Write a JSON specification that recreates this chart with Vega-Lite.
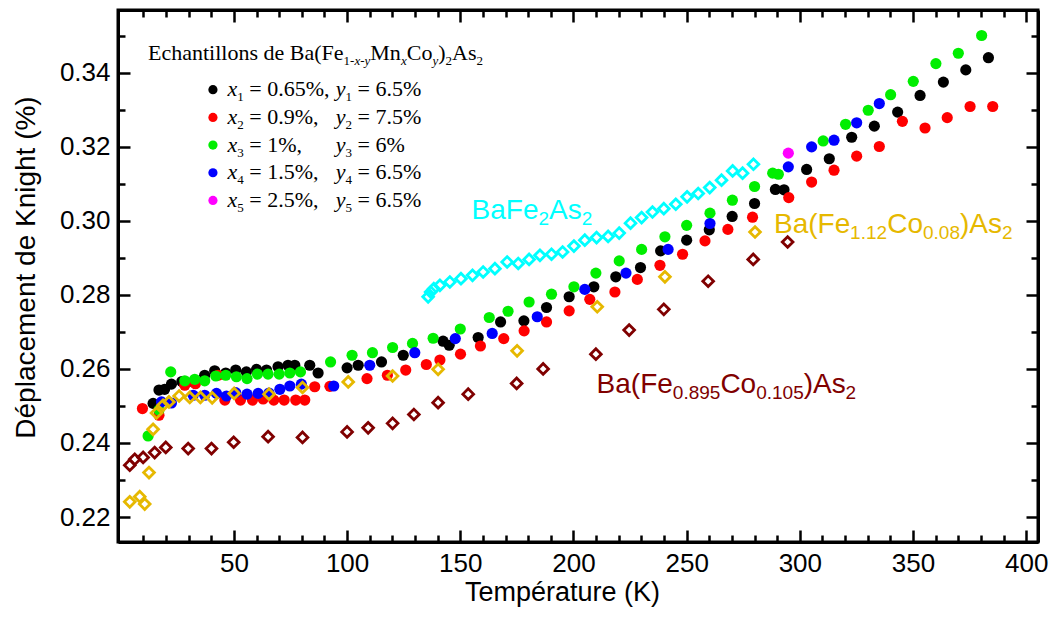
{
  "$schema": "https://vega.github.io/schema/vega-lite/v6.json",
  "width": 920,
  "height": 532,
  "autosize": {"type": "none"},
  "padding": {"left": 118, "top": 10, "right": 15, "bottom": 75},
  "background": "white",
  "config": {"view": {"stroke": "black", "strokeWidth": 3}},
  "datasets": {
    "circ": [
      {"s":"x1","T":14.3,"K":0.2507},{"s":"x1","T":16.9,"K":0.2543},{"s":"x1","T":19.4,"K":0.2545},{"s":"x1","T":22.4,"K":0.2559},{"s":"x1","T":27,"K":0.2566},{"s":"x1","T":32,"K":0.2565},{"s":"x1","T":37.1,"K":0.2583},{"s":"x1","T":41.5,"K":0.2595},{"s":"x1","T":46.4,"K":0.2589},{"s":"x1","T":50.8,"K":0.2597},{"s":"x1","T":55.5,"K":0.2592},{"s":"x1","T":60,"K":0.2599},{"s":"x1","T":64.4,"K":0.2597},{"s":"x1","T":69.5,"K":0.2606},{"s":"x1","T":73.9,"K":0.261},{"s":"x1","T":76.9,"K":0.261},{"s":"x1","T":83.5,"K":0.261},{"s":"x1","T":87.2,"K":0.2589},{"s":"x1","T":100,"K":0.2603},{"s":"x1","T":104.9,"K":0.261},{"s":"x1","T":115.2,"K":0.2619},{"s":"x1","T":124.8,"K":0.2637},{"s":"x1","T":142.4,"K":0.2675},{"s":"x1","T":145.1,"K":0.2664},{"s":"x1","T":157.9,"K":0.2685},{"s":"x1","T":167.8,"K":0.2727},{"s":"x1","T":178.1,"K":0.273},{"s":"x1","T":188.1,"K":0.2766},{"s":"x1","T":198.1,"K":0.2795},{"s":"x1","T":209,"K":0.2822},{"s":"x1","T":218.7,"K":0.2849},{"s":"x1","T":229.6,"K":0.2874},{"s":"x1","T":238.5,"K":0.2919},{"s":"x1","T":250,"K":0.2948},{"s":"x1","T":260,"K":0.2976},{"s":"x1","T":270.1,"K":0.3012},{"s":"x1","T":280,"K":0.3047},{"s":"x1","T":289.2,"K":0.3085},{"s":"x1","T":293,"K":0.3084},{"s":"x1","T":303,"K":0.3139},{"s":"x1","T":313,"K":0.3168},{"s":"x1","T":322.9,"K":0.3226},{"s":"x1","T":332.9,"K":0.3256},{"s":"x1","T":343.2,"K":0.3294},{"s":"x1","T":353.1,"K":0.3339},{"s":"x1","T":363.4,"K":0.3375},{"s":"x1","T":373.3,"K":0.3408},{"s":"x1","T":383.3,"K":0.3441},
      {"s":"x2","T":9.6,"K":0.2493},{"s":"x2","T":16.9,"K":0.2475},{"s":"x2","T":28.3,"K":0.2556},{"s":"x2","T":33,"K":0.256},{"s":"x2","T":43,"K":0.2583},{"s":"x2","T":46,"K":0.2516},{"s":"x2","T":52.9,"K":0.2516},{"s":"x2","T":58.2,"K":0.2516},{"s":"x2","T":62.9,"K":0.2519},{"s":"x2","T":67.6,"K":0.2516},{"s":"x2","T":72.2,"K":0.2516},{"s":"x2","T":77.3,"K":0.2516},{"s":"x2","T":81.3,"K":0.2516},{"s":"x2","T":85.7,"K":0.2552},{"s":"x2","T":92.4,"K":0.2553},{"s":"x2","T":108.8,"K":0.2574},{"s":"x2","T":117.8,"K":0.2583},{"s":"x2","T":125.9,"K":0.2597},{"s":"x2","T":135,"K":0.2612},{"s":"x2","T":141,"K":0.2624},{"s":"x2","T":150.1,"K":0.264},{"s":"x2","T":158.9,"K":0.2662},{"s":"x2","T":169.2,"K":0.2682},{"s":"x2","T":178.2,"K":0.2703},{"s":"x2","T":188.1,"K":0.2727},{"s":"x2","T":198.1,"K":0.2757},{"s":"x2","T":207.2,"K":0.2788},{"s":"x2","T":218.3,"K":0.2808},{"s":"x2","T":228.2,"K":0.2842},{"s":"x2","T":238.2,"K":0.288},{"s":"x2","T":248.2,"K":0.291},{"s":"x2","T":258.1,"K":0.2946},{"s":"x2","T":268.2,"K":0.2977},{"s":"x2","T":279.1,"K":0.301},{"s":"x2","T":295.1,"K":0.3063},{"s":"x2","T":305.2,"K":0.3105},{"s":"x2","T":315.1,"K":0.3137},{"s":"x2","T":325.1,"K":0.3175},{"s":"x2","T":335.1,"K":0.3201},{"s":"x2","T":345.3,"K":0.3269},{"s":"x2","T":355.3,"K":0.3251},{"s":"x2","T":365.1,"K":0.3279},{"s":"x2","T":375.2,"K":0.3309},{"s":"x2","T":385.2,"K":0.3309},
      {"s":"x3","T":12.1,"K":0.2419},{"s":"x3","T":16.9,"K":0.2489},{"s":"x3","T":22.1,"K":0.2592},{"s":"x3","T":28.3,"K":0.2568},{"s":"x3","T":32.7,"K":0.2572},{"s":"x3","T":37.1,"K":0.2568},{"s":"x3","T":42,"K":0.2581},{"s":"x3","T":46.4,"K":0.2583},{"s":"x3","T":51.1,"K":0.2579},{"s":"x3","T":55.8,"K":0.2574},{"s":"x3","T":60.4,"K":0.2586},{"s":"x3","T":65.1,"K":0.2586},{"s":"x3","T":70,"K":0.2586},{"s":"x3","T":74.7,"K":0.2589},{"s":"x3","T":79.4,"K":0.2592},{"s":"x3","T":92.7,"K":0.2619},{"s":"x3","T":102.2,"K":0.2637},{"s":"x3","T":111.2,"K":0.2644},{"s":"x3","T":120.1,"K":0.2658},{"s":"x3","T":128.9,"K":0.2669},{"s":"x3","T":138,"K":0.2683},{"s":"x3","T":150,"K":0.2708},{"s":"x3","T":162.8,"K":0.2739},{"s":"x3","T":171.1,"K":0.2756},{"s":"x3","T":180.4,"K":0.2781},{"s":"x3","T":190.3,"K":0.2802},{"s":"x3","T":200.2,"K":0.2822},{"s":"x3","T":209.9,"K":0.2859},{"s":"x3","T":220.2,"K":0.2892},{"s":"x3","T":230.1,"K":0.2923},{"s":"x3","T":240.4,"K":0.2957},{"s":"x3","T":250,"K":0.2988},{"s":"x3","T":260.3,"K":0.3021},{"s":"x3","T":270.2,"K":0.3056},{"s":"x3","T":280,"K":0.3093},{"s":"x3","T":288,"K":0.3129},{"s":"x3","T":290.5,"K":0.3126},{"s":"x3","T":310.3,"K":0.3216},{"s":"x3","T":320.2,"K":0.3261},{"s":"x3","T":330.2,"K":0.3299},{"s":"x3","T":340.1,"K":0.3341},{"s":"x3","T":350.1,"K":0.3377},{"s":"x3","T":360.1,"K":0.3425},{"s":"x3","T":370,"K":0.3453},{"s":"x3","T":380.3,"K":0.3501},
      {"s":"x4","T":18,"K":0.2511},{"s":"x4","T":22.4,"K":0.2508},{"s":"x4","T":32,"K":0.2529},{"s":"x4","T":37.1,"K":0.2529},{"s":"x4","T":42.3,"K":0.2534},{"s":"x4","T":46.7,"K":0.2527},{"s":"x4","T":50.8,"K":0.2536},{"s":"x4","T":55.8,"K":0.2532},{"s":"x4","T":60.7,"K":0.2534},{"s":"x4","T":65.5,"K":0.2535},{"s":"x4","T":70.3,"K":0.2545},{"s":"x4","T":74.7,"K":0.2554},{"s":"x4","T":79.8,"K":0.2559},{"s":"x4","T":94.1,"K":0.2554},{"s":"x4","T":110,"K":0.261},{"s":"x4","T":129.9,"K":0.2644},{"s":"x4","T":147.8,"K":0.2682},{"s":"x4","T":164.1,"K":0.2696},{"s":"x4","T":184,"K":0.2741},{"s":"x4","T":205,"K":0.2815},{"s":"x4","T":223.2,"K":0.2859},{"s":"x4","T":241.8,"K":0.2923},{"s":"x4","T":260.3,"K":0.2993},{"s":"x4","T":294.9,"K":0.3146},{"s":"x4","T":305.2,"K":0.32},{"s":"x4","T":315.1,"K":0.3218},{"s":"x4","T":325.1,"K":0.3265},{"s":"x4","T":335.1,"K":0.3317},
      {"s":"x5","T":294.9,"K":0.3183}
    ],
    "diam": [
      {"s":"Co0105","T":4,"K":0.234},{"s":"Co0105","T":6.2,"K":0.2356},{"s":"Co0105","T":9.9,"K":0.2361},{"s":"Co0105","T":15,"K":0.2374},{"s":"Co0105","T":19.9,"K":0.2388},{"s":"Co0105","T":29.8,"K":0.2385},{"s":"Co0105","T":40.1,"K":0.2385},{"s":"Co0105","T":49.9,"K":0.2402},{"s":"Co0105","T":65.1,"K":0.2417},{"s":"Co0105","T":80.3,"K":0.2415},{"s":"Co0105","T":100,"K":0.243},{"s":"Co0105","T":109.3,"K":0.2441},{"s":"Co0105","T":120.1,"K":0.2453},{"s":"Co0105","T":129.5,"K":0.2477},{"s":"Co0105","T":140.2,"K":0.2509},{"s":"Co0105","T":153.5,"K":0.2532},{"s":"Co0105","T":174.9,"K":0.2561},{"s":"Co0105","T":186.6,"K":0.26},{"s":"Co0105","T":209.9,"K":0.264},{"s":"Co0105","T":224.6,"K":0.2705},{"s":"Co0105","T":239.9,"K":0.2761},{"s":"Co0105","T":259.5,"K":0.2837},{"s":"Co0105","T":279.4,"K":0.2896},{"s":"Co0105","T":294.6,"K":0.2943},
      {"s":"Co008","T":4,"K":0.2241},{"s":"Co008","T":8.4,"K":0.2255},{"s":"Co008","T":10.6,"K":0.2235},{"s":"Co008","T":12.5,"K":0.232},{"s":"Co008","T":14.3,"K":0.2437},{"s":"Co008","T":15.8,"K":0.2481},{"s":"Co008","T":18.7,"K":0.2502},{"s":"Co008","T":21.3,"K":0.2511},{"s":"Co008","T":25.8,"K":0.2527},{"s":"Co008","T":30.5,"K":0.2523},{"s":"Co008","T":35.2,"K":0.2523},{"s":"Co008","T":40.4,"K":0.2522},{"s":"Co008","T":50.1,"K":0.2534},{"s":"Co008","T":65.5,"K":0.2532},{"s":"Co008","T":80.3,"K":0.255},{"s":"Co008","T":100.5,"K":0.2565},{"s":"Co008","T":120.1,"K":0.2581},{"s":"Co008","T":140.2,"K":0.2599},{"s":"Co008","T":175.1,"K":0.2649},{"s":"Co008","T":210.5,"K":0.2768},{"s":"Co008","T":240.4,"K":0.2849},{"s":"Co008","T":280.2,"K":0.297},
      {"s":"BaFe2As2","T":135.8,"K":0.2795},{"s":"BaFe2As2","T":136.9,"K":0.2808},{"s":"BaFe2As2","T":138.3,"K":0.2817},{"s":"BaFe2As2","T":141,"K":0.2826},{"s":"BaFe2As2","T":145.4,"K":0.2835},{"s":"BaFe2As2","T":150.3,"K":0.2844},{"s":"BaFe2As2","T":155.4,"K":0.2853},{"s":"BaFe2As2","T":160.1,"K":0.2862},{"s":"BaFe2As2","T":165.3,"K":0.2871},{"s":"BaFe2As2","T":170.7,"K":0.2889},{"s":"BaFe2As2","T":175.6,"K":0.2885},{"s":"BaFe2As2","T":180.4,"K":0.2896},{"s":"BaFe2As2","T":185.2,"K":0.2907},{"s":"BaFe2As2","T":190.3,"K":0.291},{"s":"BaFe2As2","T":195.2,"K":0.2916},{"s":"BaFe2As2","T":200.2,"K":0.2932},{"s":"BaFe2As2","T":205,"K":0.2948},{"s":"BaFe2As2","T":210.2,"K":0.2955},{"s":"BaFe2As2","T":215.3,"K":0.2958},{"s":"BaFe2As2","T":220.2,"K":0.2967},{"s":"BaFe2As2","T":225.2,"K":0.2994},{"s":"BaFe2As2","T":230.1,"K":0.3009},{"s":"BaFe2As2","T":234.9,"K":0.3024},{"s":"BaFe2As2","T":239.9,"K":0.3033},{"s":"BaFe2As2","T":245.2,"K":0.3045},{"s":"BaFe2As2","T":250.2,"K":0.3065},{"s":"BaFe2As2","T":255.1,"K":0.3074},{"s":"BaFe2As2","T":260.2,"K":0.309},{"s":"BaFe2As2","T":265.4,"K":0.311},{"s":"BaFe2As2","T":270.3,"K":0.3135},{"s":"BaFe2As2","T":274.7,"K":0.3129},{"s":"BaFe2As2","T":279.5,"K":0.3153}
    ],
    "legDots": [
      {"s":"x1","T":40.74,"K":0.33544},{"s":"x2","T":40.74,"K":0.32796},{"s":"x3","T":40.74,"K":0.32049},{"s":"x4","T":40.74,"K":0.31301},{"s":"x5","T":40.74,"K":0.30553}
    ],
    "annoMain": [
      {"s":"BaFe2As2","t":"BaFe","T":155.0,"K":0.30043},
      {"s":"BaFe2As2","t":"As","T":189.2,"K":0.30043},
      {"s":"Co008","t":"Ba(Fe","T":288.6,"K":0.29665},
      {"s":"Co008","t":"Co","T":338.6,"K":0.29665},
      {"s":"Co008","t":")As","T":370.7,"K":0.29665},
      {"s":"Co0105","t":"Ba(Fe","T":210.2,"K":0.25347},
      {"s":"Co0105","t":"Co","T":264.9,"K":0.25347},
      {"s":"Co0105","t":")As","T":301.7,"K":0.25347}
    ],
    "annoSub": [
      {"s":"BaFe2As2","t":"2","T":184.5,"K":0.29881},
      {"s":"BaFe2As2","t":"2","T":203.7,"K":0.29881},
      {"s":"Co008","t":"1.12","T":322.2,"K":0.29503},
      {"s":"Co008","t":"0.08","T":354.4,"K":0.29503},
      {"s":"Co008","t":"2","T":389.3,"K":0.29503},
      {"s":"Co0105","t":"0.895","T":243.9,"K":0.25185},
      {"s":"Co0105","t":"0.105","T":280.7,"K":0.25185},
      {"s":"Co0105","t":"2","T":320.2,"K":0.25185}
    ],
    "serifReg": [
      {"t":"Echantillons de Ba(Fe","T":12.06,"K":0.34348},
      {"t":"Mn","T":110.25,"K":0.34348},
      {"t":"Co","T":126.34,"K":0.34348},
      {"t":")","T":140.25,"K":0.34348},
      {"t":"As","T":146.35,"K":0.34348},
      {"t":"= 0.65%,","T":56.78,"K":0.33368},
      {"t":"= 6.5%","T":104.64,"K":0.33368},
      {"t":"= 0.9%,","T":56.78,"K":0.32621},
      {"t":"= 7.5%","T":104.64,"K":0.32621},
      {"t":"= 1%,","T":56.78,"K":0.31873},
      {"t":"= 6%","T":104.64,"K":0.31873},
      {"t":"= 1.5%,","T":56.78,"K":0.31125},
      {"t":"= 6.5%","T":104.64,"K":0.31125},
      {"t":"= 2.5%,","T":56.78,"K":0.30378},
      {"t":"= 6.5%","T":104.64,"K":0.30378}
    ],
    "serifIt": [
      {"t":"x","T":47.15,"K":0.33368},{"t":"y","T":95.0,"K":0.33368},
      {"t":"x","T":47.15,"K":0.32621},{"t":"y","T":95.0,"K":0.32621},
      {"t":"x","T":47.15,"K":0.31873},{"t":"y","T":95.0,"K":0.31873},
      {"t":"x","T":47.15,"K":0.31125},{"t":"y","T":95.0,"K":0.31125},
      {"t":"x","T":47.15,"K":0.30378},{"t":"y","T":95.0,"K":0.30378}
    ],
    "serifSub": [
      {"t":"1-","T":98.45,"K":0.34213},
      {"t":"-","T":105.79,"K":0.34213},
      {"t":"2","T":143.48,"K":0.34213},
      {"t":"2","T":157.14,"K":0.34213},
      {"t":"1","T":51.48,"K":0.33233},{"t":"1","T":99.34,"K":0.33233},
      {"t":"2","T":51.48,"K":0.32486},{"t":"2","T":99.34,"K":0.32486},
      {"t":"3","T":51.48,"K":0.31738},{"t":"3","T":99.34,"K":0.31738},
      {"t":"4","T":51.48,"K":0.3099},{"t":"4","T":99.34,"K":0.3099},
      {"t":"5","T":51.48,"K":0.30243},{"t":"5","T":99.34,"K":0.30243}
    ],
    "serifSubIt": [
      {"t":"x","T":103.22,"K":0.34213},
      {"t":"y","T":107.69,"K":0.34213},
      {"t":"x","T":123.77,"K":0.34213},
      {"t":"y","T":137.69,"K":0.34213}
    ]
  },
  "resolve": {"axis": {"x": "independent", "y": "independent"}},
  "layer": [
    {
      "data": {"name": "circ"},
      "mark": {"type": "circle", "size": 125, "opacity": 1},
      "encoding": {
        "x": {"field": "T", "type": "quantitative",
          "scale": {"domain": [-1.2, 405.2], "nice": false, "zero": false},
          "axis": {"orient": "bottom", "values": [10,20,30,40,50,60,70,80,90,100,110,120,130,140,150,160,170,180,190,200,210,220,230,240,250,260,270,280,290,300,310,320,330,340,350,360,370,380,390,400],
            "title": "Température (K)", "format": "d",
            "labelExpr": "datum.value % 50 === 0 ? datum.label : ''",
            "tickSize": {"condition": {"test": "datum.value % 50 === 0", "value": -12}, "value": -7},
            "tickWidth": 2.5, "tickColor": "black", "domainColor": "black", "domainWidth": 3,
            "grid": false, "labelOverlap": false, "labelFlush": false, "labelPadding": 20,
            "labelFont": "Liberation Sans", "labelFontSize": 26, "labelColor": "black",
            "titleFont": "Liberation Sans", "titleFontSize": 27, "titleFontWeight": "normal", "titleColor": "black",
            "titleBaseline": "alphabetic", "titleX": 444, "titleY": 58}},
        "y": {"field": "K", "type": "quantitative",
          "scale": {"domain": [0.21325, 0.35698], "nice": false, "zero": false},
          "axis": {"orient": "left", "values": [0.22,0.23,0.24,0.25,0.26,0.27,0.28,0.29,0.30,0.31,0.32,0.33,0.34,0.35],
            "title": "Déplacement de Knight (%)",
            "labelExpr": "round(datum.value*100) % 2 === 0 ? format(datum.value, '.2f') : ''",
            "tickSize": {"condition": {"test": "round(datum.value*100) % 2 === 0", "value": -12}, "value": -7},
            "tickWidth": 2.5, "tickColor": "black", "domainColor": "black", "domainWidth": 3,
            "grid": false, "labelOverlap": false, "labelFlush": false, "labelPadding": 20,
            "labelFont": "Liberation Sans", "labelFontSize": 26, "labelColor": "black",
            "titleFont": "Liberation Sans", "titleFontSize": 28, "titleFontWeight": "normal", "titleColor": "black",
            "titleBaseline": "alphabetic", "titleAngle": 270, "titleX": -84, "titleY": 257}},
        "color": {"field": "s", "type": "nominal", "legend": null,
          "scale": {"domain": ["x1","x2","x3","x4","x5","BaFe2As2","Co008","Co0105"], "range": ["#000000","#ff0000","#00ee00","#0000ff","#ff00ff","#00ffff","#e6b800","#800000"]}}
      }
    },
    {
      "data": {"name": "diam"},
      "mark": {"type": "point", "shape": "diamond", "filled": false, "size": 115, "strokeWidth": 2.8, "opacity": 1},
      "encoding": {
        "x": {"field": "T", "type": "quantitative",
          "axis": {"orient": "top", "values": [10,20,30,40,50,60,70,80,90,100,110,120,130,140,150,160,170,180,190,200,210,220,230,240,250,260,270,280,290,300,310,320,330,340,350,360,370,380,390,400],
            "title": null, "labels": false,
            "tickSize": {"condition": {"test": "datum.value % 50 === 0", "value": -12}, "value": -7},
            "tickWidth": 2.5, "tickColor": "black", "domainColor": "black", "domainWidth": 3, "grid": false}},
        "y": {"field": "K", "type": "quantitative",
          "axis": {"orient": "right", "values": [0.22,0.23,0.24,0.25,0.26,0.27,0.28,0.29,0.30,0.31,0.32,0.33,0.34,0.35],
            "title": null, "labels": false,
            "tickSize": {"condition": {"test": "round(datum.value*100) % 2 === 0", "value": -12}, "value": -7},
            "tickWidth": 2.5, "tickColor": "black", "domainColor": "black", "domainWidth": 3, "grid": false}},
        "color": {"field": "s", "type": "nominal", "legend": null,
          "scale": {"domain": ["x1","x2","x3","x4","x5","BaFe2As2","Co008","Co0105"], "range": ["#000000","#ff0000","#00ee00","#0000ff","#ff00ff","#00ffff","#e6b800","#800000"]}}
      }
    },
    {
      "data": {"name": "legDots"},
      "mark": {"type": "circle", "size": 85, "opacity": 1},
      "encoding": {
        "x": {"field": "T", "type": "quantitative", "axis": null},
        "y": {"field": "K", "type": "quantitative", "axis": null},
        "color": {"field": "s", "type": "nominal", "legend": null,
          "scale": {"domain": ["x1","x2","x3","x4","x5","BaFe2As2","Co008","Co0105"], "range": ["#000000","#ff0000","#00ee00","#0000ff","#ff00ff","#00ffff","#e6b800","#800000"]}}
      }
    },
    {
      "data": {"name": "annoMain"},
      "mark": {"type": "text", "font": "Liberation Sans", "fontSize": 28, "align": "left", "baseline": "alphabetic"},
      "encoding": {
        "x": {"field": "T", "type": "quantitative", "axis": null},
        "y": {"field": "K", "type": "quantitative", "axis": null},
        "text": {"field": "t"},
        "color": {"field": "s", "type": "nominal", "legend": null,
          "scale": {"domain": ["x1","x2","x3","x4","x5","BaFe2As2","Co008","Co0105"], "range": ["#000000","#ff0000","#00ee00","#0000ff","#ff00ff","#00ffff","#e6b800","#800000"]}}
      }
    },
    {
      "data": {"name": "annoSub"},
      "mark": {"type": "text", "font": "Liberation Sans", "fontSize": 19, "align": "left", "baseline": "alphabetic"},
      "encoding": {
        "x": {"field": "T", "type": "quantitative", "axis": null},
        "y": {"field": "K", "type": "quantitative", "axis": null},
        "text": {"field": "t"},
        "color": {"field": "s", "type": "nominal", "legend": null,
          "scale": {"domain": ["x1","x2","x3","x4","x5","BaFe2As2","Co008","Co0105"], "range": ["#000000","#ff0000","#00ee00","#0000ff","#ff00ff","#00ffff","#e6b800","#800000"]}}
      }
    },
    {
      "data": {"name": "serifReg"},
      "mark": {"type": "text", "font": "Liberation Serif", "fontSize": 22, "align": "left", "baseline": "alphabetic", "color": "black"},
      "encoding": {
        "x": {"field": "T", "type": "quantitative", "axis": null},
        "y": {"field": "K", "type": "quantitative", "axis": null},
        "text": {"field": "t"}
      }
    },
    {
      "data": {"name": "serifIt"},
      "mark": {"type": "text", "font": "Liberation Serif", "fontSize": 22, "fontStyle": "italic", "align": "left", "baseline": "alphabetic", "color": "black"},
      "encoding": {
        "x": {"field": "T", "type": "quantitative", "axis": null},
        "y": {"field": "K", "type": "quantitative", "axis": null},
        "text": {"field": "t"}
      }
    },
    {
      "data": {"name": "serifSub"},
      "mark": {"type": "text", "font": "Liberation Serif", "fontSize": 13, "align": "left", "baseline": "alphabetic", "color": "black"},
      "encoding": {
        "x": {"field": "T", "type": "quantitative", "axis": null},
        "y": {"field": "K", "type": "quantitative", "axis": null},
        "text": {"field": "t"}
      }
    },
    {
      "data": {"name": "serifSubIt"},
      "mark": {"type": "text", "font": "Liberation Serif", "fontSize": 13, "fontStyle": "italic", "align": "left", "baseline": "alphabetic", "color": "black"},
      "encoding": {
        "x": {"field": "T", "type": "quantitative", "axis": null},
        "y": {"field": "K", "type": "quantitative", "axis": null},
        "text": {"field": "t"}
      }
    }
  ]
}
